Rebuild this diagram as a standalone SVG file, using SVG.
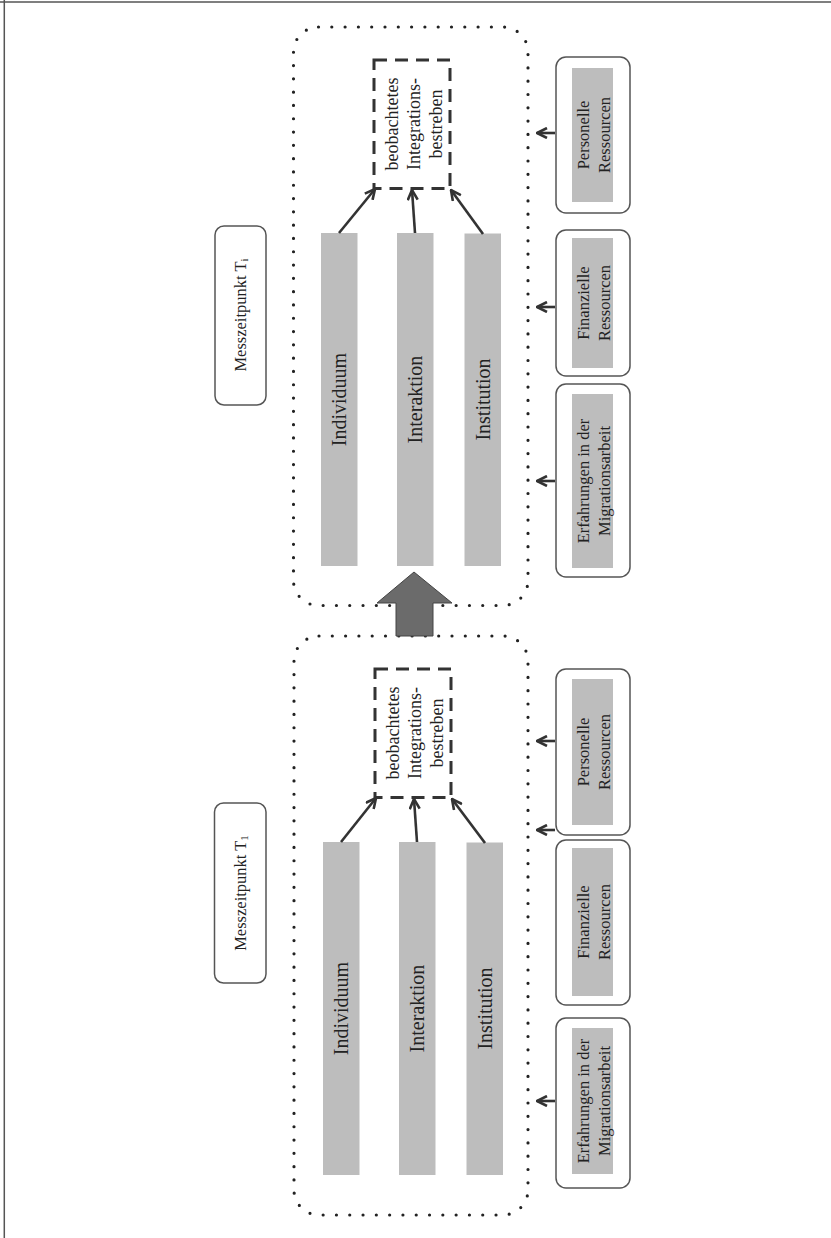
<svg xmlns="http://www.w3.org/2000/svg" width="831" height="1238" viewBox="0 0 831 1238">
<defs>
<style>
.frame{stroke:#555;stroke-width:1.5;fill:none}
.dotted{fill:none;stroke:#222;stroke-width:3.2;stroke-dasharray:0 13.3;stroke-linecap:round}
.dashed{fill:#fff;stroke:#333;stroke-width:3;stroke-dasharray:13 8}
.bar{fill:#bdbdbd}
.rbox{fill:#fff;stroke:#555;stroke-width:1.5}
.rin{fill:#bdbdbd}
.lbl{font-family:"Liberation Serif","Times New Roman",serif;fill:#222;text-anchor:middle;dominant-baseline:central}
.conn{stroke:#333;stroke-width:2.6;fill:none}
.big{fill:#6b6b6b;stroke:#444;stroke-width:1}
</style>
<marker id="ah" viewBox="0 0 12 12" refX="11" refY="6" markerWidth="12" markerHeight="12" markerUnits="userSpaceOnUse" orient="auto">
<path d="M1,1 L11,6 L1,11" fill="none" stroke="#333" stroke-width="2.6" stroke-linejoin="miter"/>
</marker>
</defs>
<rect width="831" height="1238" fill="#fff"/>
<g id="frame">
<line class="frame" x1="0" y1="2" x2="831" y2="2"/>
<line class="frame" x1="4.3" y1="0" x2="4.3" y2="1238"/>
</g>

<!-- Upper panel: Messzeitpunkt T_i -->
<g id="panel-Ti">
<rect class="dotted" x="293.5" y="27" width="234.5" height="578.5" rx="25"/>
</g>
<g id="label-Ti">
<rect class="rbox" x="215" y="226" width="51" height="179" rx="9"/>
<text class="lbl" font-size="16.5" transform="translate(240,315) rotate(-90)">Messzeitpunkt T<tspan font-size="11" dy="4">i</tspan></text>
</g>
<g id="ti-individuum"><rect class="bar" x="321" y="233" width="36.5" height="333"/><text class="lbl" font-size="20" transform="translate(339,399.5) rotate(-90)">Individuum</text></g>
<g id="ti-interaktion"><rect class="bar" x="397" y="233" width="36.5" height="333"/><text class="lbl" font-size="20" transform="translate(415,399.5) rotate(-90)">Interaktion</text></g>
<g id="ti-institution"><rect class="bar" x="464.5" y="233.5" width="36.5" height="332.5"/><text class="lbl" font-size="20" transform="translate(482.5,399.5) rotate(-90)">Institution</text></g>
<g id="ti-integration">
<rect class="dashed" x="374" y="60" width="76" height="128.5"/>
<text class="lbl" font-size="18" transform="translate(392,124) rotate(-90)">beobachtetes</text>
<text class="lbl" font-size="18" transform="translate(414,124) rotate(-90)">Integrations-</text>
<text class="lbl" font-size="18" transform="translate(436,124) rotate(-90)">bestreben</text>
</g>
<g id="ti-personell"><rect class="rbox" x="556" y="57" width="74" height="156" rx="10"/><rect class="rin" x="572" y="68" width="41" height="134"/><text class="lbl" font-size="16.5" transform="translate(583,135) rotate(-90)">Personelle</text><text class="lbl" font-size="16.5" transform="translate(604,135) rotate(-90)">Ressourcen</text></g>
<g id="ti-finanziell"><rect class="rbox" x="556" y="230" width="74" height="146" rx="10"/><rect class="rin" x="572" y="238" width="41" height="130"/><text class="lbl" font-size="16.5" transform="translate(583,303) rotate(-90)">Finanzielle</text><text class="lbl" font-size="16.5" transform="translate(604,303) rotate(-90)">Ressourcen</text></g>
<g id="ti-erfahrung"><rect class="rbox" x="556" y="384" width="74" height="193" rx="10"/><rect class="rin" x="572" y="394" width="41" height="174"/><text class="lbl" font-size="16.5" transform="translate(583,481) rotate(-90)">Erfahrungen in der</text><text class="lbl" font-size="16.5" transform="translate(604,481) rotate(-90)">Migrationsarbeit</text></g>

<!-- Lower panel: Messzeitpunkt T_1 -->
<g id="panel-T1">
<rect class="dotted" x="294" y="636" width="234" height="579" rx="25"/>
</g>
<g id="label-T1">
<rect class="rbox" x="214.5" y="803" width="51.5" height="180" rx="9"/>
<text class="lbl" font-size="16.5" transform="translate(240,893) rotate(-90)">Messzeitpunkt T<tspan font-size="11" dy="4">1</tspan></text>
</g>
<g id="t1-individuum"><rect class="bar" x="323" y="842" width="36.5" height="333"/><text class="lbl" font-size="20" transform="translate(341,1008.5) rotate(-90)">Individuum</text></g>
<g id="t1-interaktion"><rect class="bar" x="399" y="842" width="36.5" height="333"/><text class="lbl" font-size="20" transform="translate(417,1008.5) rotate(-90)">Interaktion</text></g>
<g id="t1-institution"><rect class="bar" x="466.5" y="842.5" width="36.5" height="332.5"/><text class="lbl" font-size="20" transform="translate(484.5,1008.5) rotate(-90)">Institution</text></g>
<g id="t1-integration">
<rect class="dashed" x="375" y="669" width="76" height="128.5"/>
<text class="lbl" font-size="18" transform="translate(393,733) rotate(-90)">beobachtetes</text>
<text class="lbl" font-size="18" transform="translate(415,733) rotate(-90)">Integrations-</text>
<text class="lbl" font-size="18" transform="translate(437,733) rotate(-90)">bestreben</text>
</g>
<g id="t1-personell"><rect class="rbox" x="556" y="669" width="74" height="166" rx="10"/><rect class="rin" x="572" y="679" width="41" height="146"/><text class="lbl" font-size="16.5" transform="translate(583,752) rotate(-90)">Personelle</text><text class="lbl" font-size="16.5" transform="translate(604,752) rotate(-90)">Ressourcen</text></g>
<g id="t1-finanziell"><rect class="rbox" x="556" y="840" width="74" height="165" rx="10"/><rect class="rin" x="572" y="848" width="41" height="148"/><text class="lbl" font-size="16.5" transform="translate(583,922) rotate(-90)">Finanzielle</text><text class="lbl" font-size="16.5" transform="translate(604,922) rotate(-90)">Ressourcen</text></g>
<g id="t1-erfahrung"><rect class="rbox" x="556" y="1018" width="74" height="170" rx="10"/><rect class="rin" x="572" y="1028" width="41" height="146"/><text class="lbl" font-size="16.5" transform="translate(583,1101) rotate(-90)">Erfahrungen in der</text><text class="lbl" font-size="16.5" transform="translate(604,1101) rotate(-90)">Migrationsarbeit</text></g>

<g id="connectors">
<polygon class="big" points="414,572 452,603 433,603 433,636 396,636 396,603 377,603"/>
<line class="conn" x1="339" y1="233" x2="375" y2="189" marker-end="url(#ah)"/>
<line class="conn" x1="415" y1="233" x2="412" y2="190" marker-end="url(#ah)"/>
<line class="conn" x1="483" y1="234" x2="451" y2="190" marker-end="url(#ah)"/>
<line class="conn" x1="341" y1="842" x2="376" y2="798" marker-end="url(#ah)"/>
<line class="conn" x1="417" y1="842" x2="414" y2="799" marker-end="url(#ah)"/>
<line class="conn" x1="485" y1="843" x2="452" y2="799" marker-end="url(#ah)"/>
<line class="conn" x1="555" y1="133" x2="537" y2="133" marker-end="url(#ah)"/>
<line class="conn" x1="555" y1="307" x2="537" y2="307" marker-end="url(#ah)"/>
<line class="conn" x1="555" y1="481" x2="537" y2="481" marker-end="url(#ah)"/>
<line class="conn" x1="555" y1="741" x2="537" y2="741" marker-end="url(#ah)"/>
<line class="conn" x1="555" y1="830" x2="537" y2="830" marker-end="url(#ah)"/>
<line class="conn" x1="555" y1="1101" x2="537" y2="1101" marker-end="url(#ah)"/>
</g>
</svg>
